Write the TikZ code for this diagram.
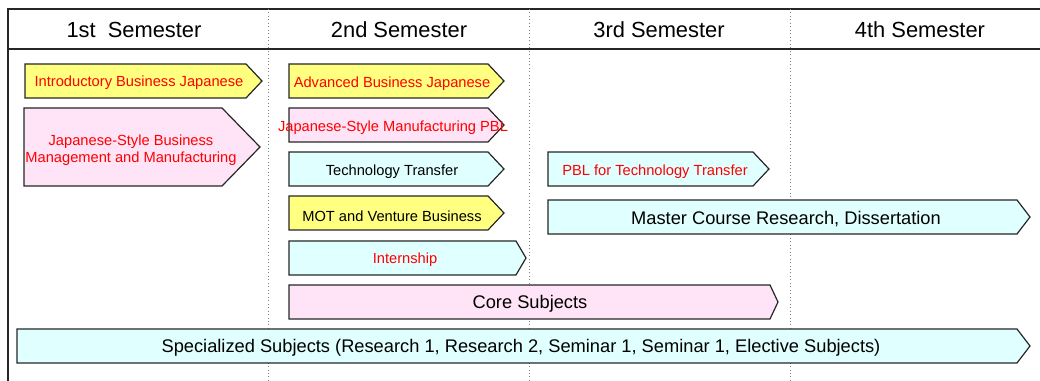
\documentclass[tikz,border=0pt]{standalone}
\usepackage{fontspec}
\setmainfont{Liberation Sans}
\definecolor{boxyellow}{HTML}{FFFF80}
\definecolor{boxpink}{HTML}{FFE3F6}
\definecolor{boxcyan}{HTML}{E0FFFF}

\begin{document}
\begin{tikzpicture}[x=0.75pt, y=-0.75pt,
        frame/.style = {line width=1pt, black!85},
        sep/.style = {dotted, gray, line width=0.6pt},
        head/.style = {font=\fontsize{16.4}{19}\selectfont, yshift=-0.8pt},
        small/.style = {font=\fontsize{11}{13}\selectfont, yshift=-1.5pt},
        big/.style = {font=\fontsize{13.7}{16}\selectfont, yshift=-1.5pt},
        ybox/.style = {draw=black!85, line width=0.9pt, fill=boxyellow},
        pbox/.style = {draw=black!85, line width=0.9pt, fill=boxpink},
        cbox/.style = {draw=black!85, line width=0.9pt, fill=boxcyan}]
        \useasboundingbox (0,0) rectangle (1040,381);
        % frame and semester columns
        \draw[frame] (1040,9) -- (8,9) -- (8,381);
        \draw[frame, line width=1.4pt] (8,49) -- (1040,49);
        \foreach \x in {268,529,790}
            \draw[sep] (\x,9) -- (\x,381);
        \node[head] (s1) at (134,29) {1st\ \ Semester};
        \node[head] (s2) at (399,29) {2nd Semester};
        \node[head] (s3) at (659,29) {3rd Semester};
        \node[head] (s4) at (920,29) {4th Semester};
        % 1st semester
        \draw[ybox] (25,64) -- (246,64) -- (262,81) -- (246,98) -- (25,98) -- cycle;
        \node[small, red] (ibj) at (139,81) {Introductory Business Japanese};
        \draw[pbox] (24,108) -- (222,108) -- (260,147) -- (222,186) -- (24,186) -- cycle;
        \node[small, red, align=center] (jsbm) at (131,148) {Japanese-Style Business\\Management and Manufacturing};
        % 2nd semester
        \draw[ybox] (289,64) -- (488,64) -- (504,81) -- (488,98) -- (289,98) -- cycle;
        \node[small, red] (abj) at (392,82) {Advanced Business Japanese};
        \draw[pbox] (289,108) -- (488,108) -- (504,125) -- (488,142) -- (289,142) -- cycle;
        \node[small, red] (jsmp) at (393,126) {Japanese-Style Manufacturing PBL};
        \draw[cbox] (289,152) -- (488,152) -- (504,169) -- (488,186) -- (289,186) -- cycle;
        \node[small] (tt) at (392,170) {Technology Transfer};
        \draw[ybox] (289,196) -- (488,196) -- (504,213) -- (488,230) -- (289,230) -- cycle;
        \node[small] (mot) at (392,214) {MOT and Venture Business};
        \draw[cbox] (289,241) -- (516,241) -- (526,258) -- (516,275) -- (289,275) -- cycle;
        \node[small, red] (intern) at (405,258) {Internship};
        % 3rd and 4th semester
        \draw[cbox] (548,152) -- (753,152) -- (769,169) -- (753,186) -- (548,186) -- cycle;
        \node[small, red] (pbltt) at (655,170) {PBL for Technology Transfer};
        \draw[cbox] (548,200) -- (1017,200) -- (1030,217) -- (1017,234) -- (548,234) -- cycle;
        \node[big] (mcr) at (786,217) {Master Course Research, Dissertation};
        % over all semesters
        \draw[pbox] (289,285) -- (770,285) -- (778,302) -- (770,319) -- (289,319) -- cycle;
        \node[big] (core) at (530,302) {Core Subjects};
        \draw[cbox] (17,329) -- (1017,329) -- (1030,346) -- (1017,363) -- (17,363) -- cycle;
        \node[big] (spec) at (521,346) {Specialized Subjects (Research 1, Research 2, Seminar 1, Seminar 1, Elective Subjects)};
    \end{tikzpicture}
\end{document}
